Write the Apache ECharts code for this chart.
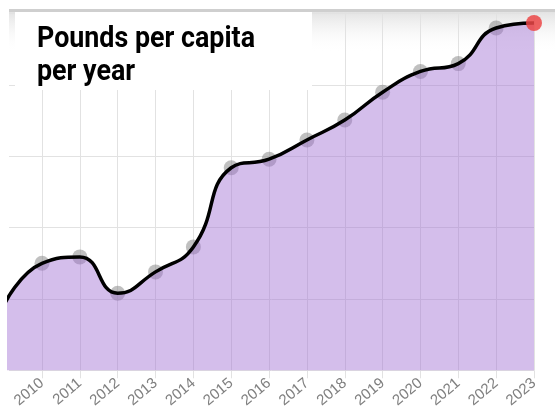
<!DOCTYPE html>
<html>
<head>
<meta charset="utf-8">
<script src="https://cdn.jsdelivr.net/npm/echarts@6/dist/echarts.min.js"></script>
<style>html,body{margin:0;padding:0;background:#fff}#c{width:555px;height:411px}</style>
</head>
<body>
<div id="c"></div>
<script>
// Data (arbitrary units, gridlines every 10)
var years = [2009, 2010, 2011, 2012, 2013, 2014, 2015, 2016, 2017, 2018, 2019, 2020, 2021, 2022, 2023];
var values = [9.2, 15.0, 15.9, 10.8, 13.8, 17.3, 28.4, 29.6, 32.3, 35.1, 39.0, 41.9, 43.0, 48.0, 48.7];
var tickYears = [2010, 2011, 2012, 2013, 2014, 2015, 2016, 2017, 2018, 2019, 2020, 2021, 2022, 2023];
var titleLines = ['Pounds per capita', 'per year'];

var lineData = years.map(function (y, i) { return [y, values[i]]; });
var dotData = lineData.filter(function (d) { return d[0] >= 2010 && d[0] < 2023; });
var lastData = [lineData[lineData.length - 1]];

// fit condensed title width
var titleFont = 'bold 30px Roboto';
var cv = document.createElement('canvas').getContext('2d');
cv.font = titleFont;
var w = cv.measureText(titleLines[0]).width;
var sx = 218 / w;

var chart = echarts.init(document.getElementById('c'), null, {renderer: 'canvas'});
chart.setOption({
  animation: false,
  backgroundColor: '#fff',
  grid: {left: 9, right: 21, top: 13.7, bottom: 40.7, containLabel: false},
  xAxis: {
    type: 'value', min: 2009.128, max: 2023,
    axisLine: {show: false},
    axisTick: {show: true, length: 8, lineStyle: {color: '#e2e2e2'}, customValues: tickYears},
    axisLabel: {customValues: tickYears, rotate: 40, color: '#808080', fontSize: 15, fontFamily: 'Liberation Sans, Arial', margin: 11,
      formatter: function (v) { return String(Math.round(v)); }},
    splitLine: {show: true, lineStyle: {color: '#e2e2e2', width: 1}}
  },
  yAxis: {
    type: 'value', min: 0, max: 50, interval: 10,
    axisLine: {show: false}, axisTick: {show: false}, axisLabel: {show: false},
    splitLine: {show: true, lineStyle: {color: '#e2e2e2', width: 1}}
  },
  graphic: [
    {type: 'rect', z: -10, silent: true, shape: {x: 9, y: 9, width: 546, height: 44},
      style: {fill: new echarts.graphic.LinearGradient(0, 0, 0, 1, [
        {offset: 0, color: '#cfcfcf'}, {offset: 0.07, color: '#cfcfcf'}, {offset: 0.08, color: '#e4e4e4'}, {offset: 1, color: 'rgba(255,255,255,0)'}])}},
    {type: 'rect', z: 100, silent: true, shape: {x: 15, y: 12, width: 297, height: 78}, style: {fill: '#fff'}},
    {type: 'text', z: 101, silent: true, x: 37, y: 39, scaleX: sx,
      style: {text: titleLines[0], font: titleFont, fill: '#000', verticalAlign: 'middle'}},
    {type: 'text', z: 101, silent: true, x: 37, y: 72, scaleX: sx,
      style: {text: titleLines[1], font: titleFont, fill: '#000', verticalAlign: 'middle'}}
  ],
  series: [
    {type: 'line', data: lineData, smooth: 0.5, showSymbol: false, z: 3, clip: true,
      lineStyle: {color: '#000', width: 3.5},
      areaStyle: {color: 'rgba(160,110,210,0.45)', opacity: 1}},
    {type: 'scatter', data: dotData, symbolSize: 15, z: 2, itemStyle: {color: 'rgba(130,130,130,0.5)', opacity: 1}},
    {type: 'scatter', data: lastData, symbolSize: 16, z: 4, clip: false, itemStyle: {color: 'rgba(235,70,70,0.85)', opacity: 1}}
  ]
});
</script>
</body>
</html>
